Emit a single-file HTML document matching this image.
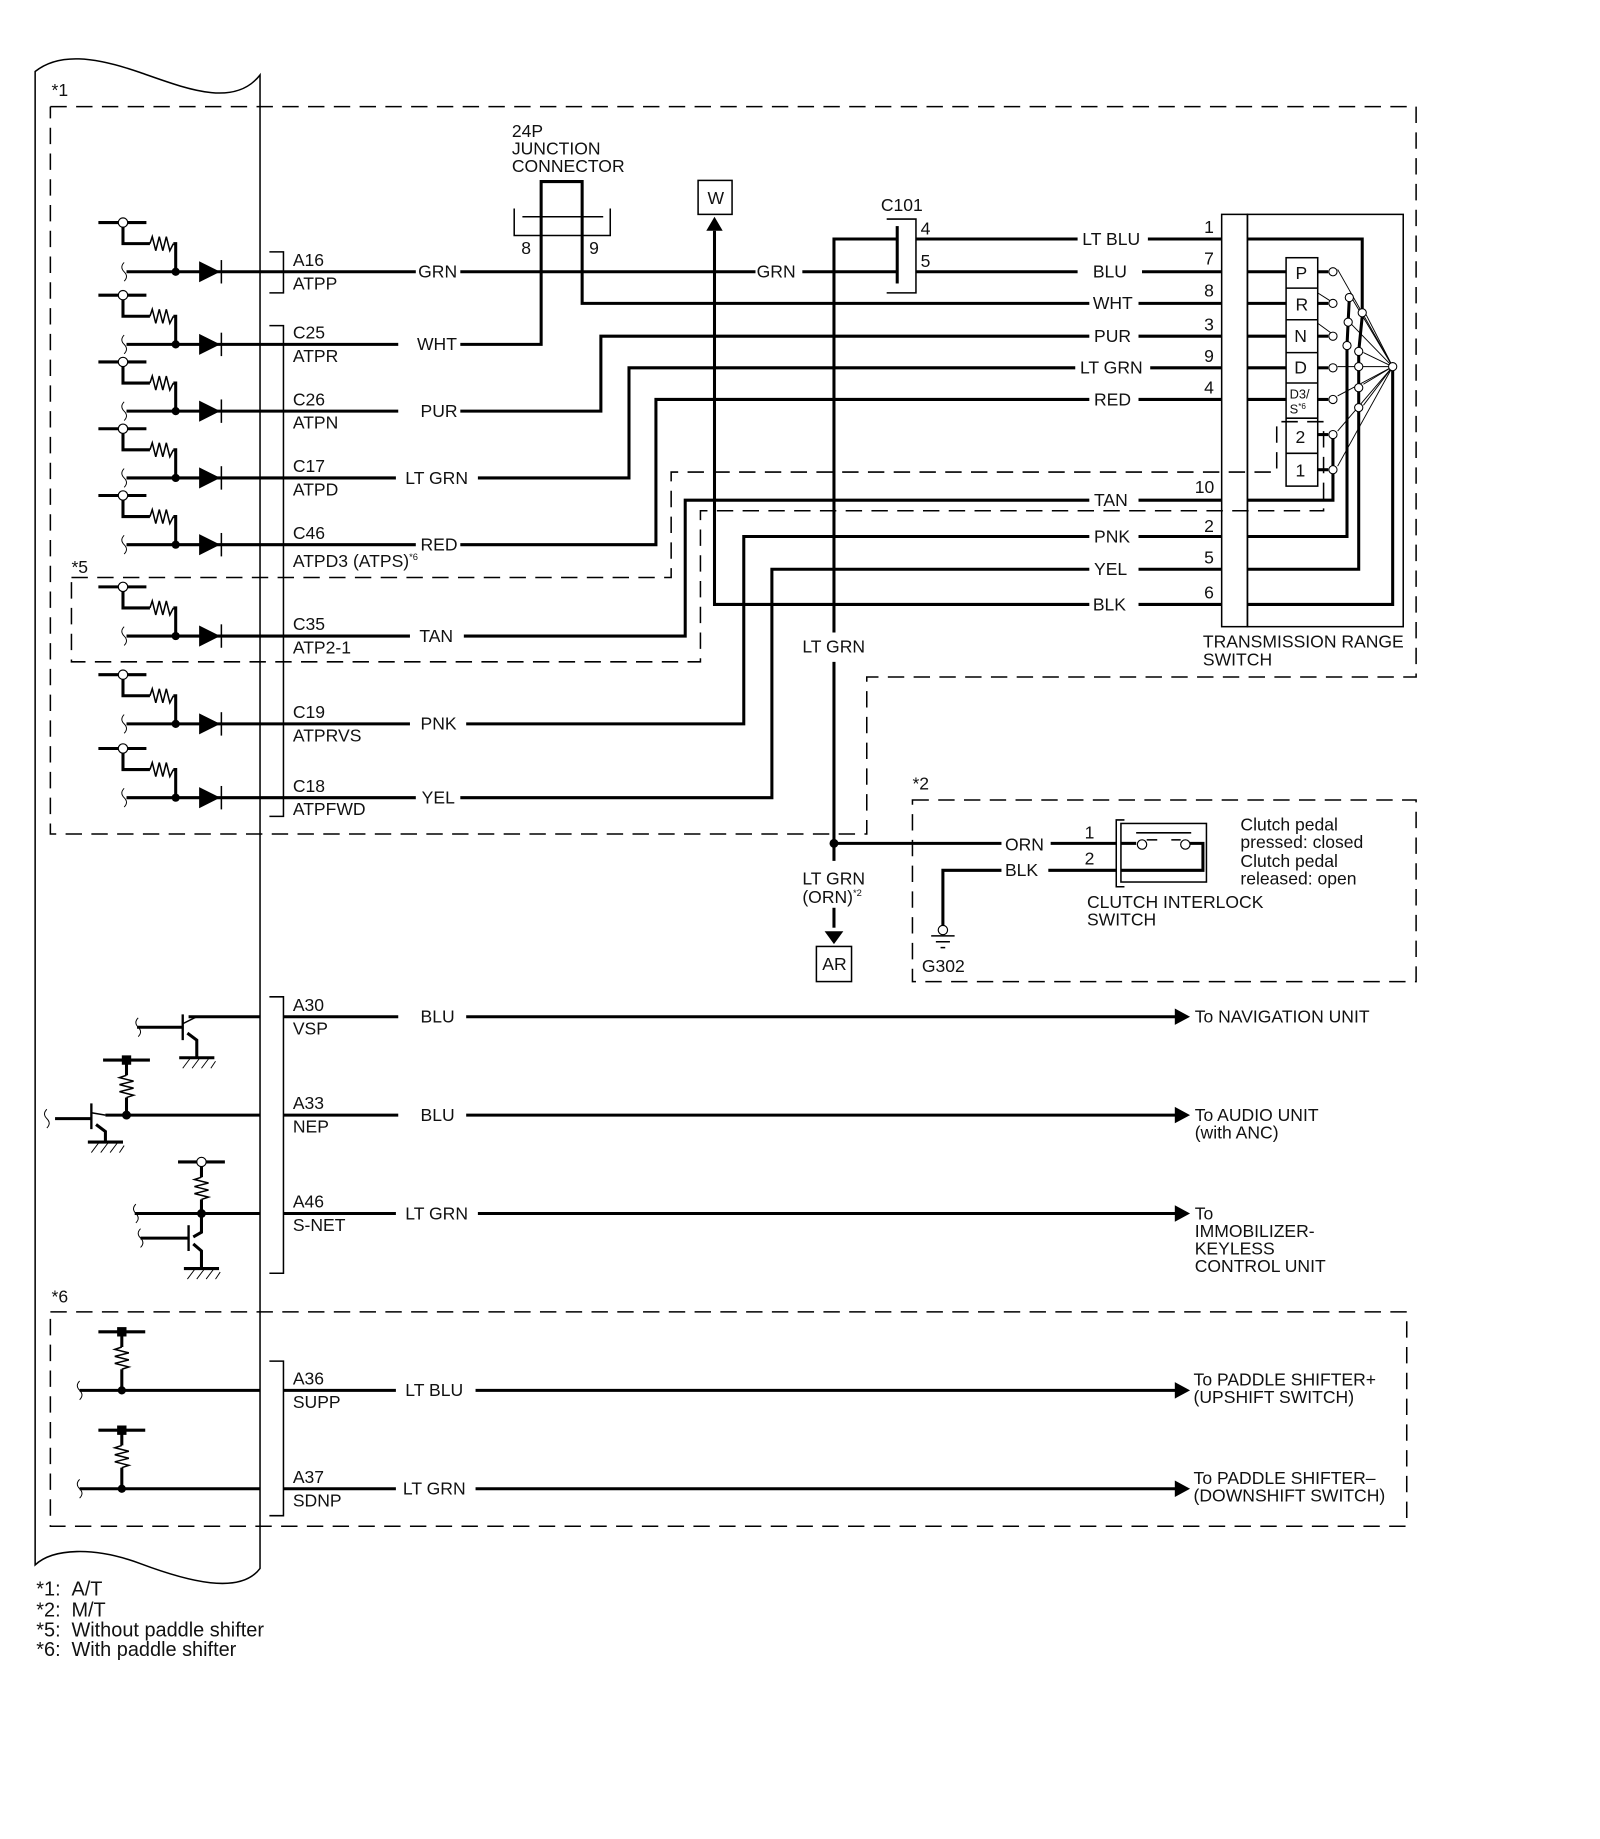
<!DOCTYPE html>
<html><head><meta charset="utf-8"><style>
html,body{margin:0;padding:0;background:#fff}
svg{display:block}
text{font-family:"Liberation Sans",Arial,sans-serif;font-size:15px;fill:#111}
.w{stroke:#000;stroke-width:2.6;fill:none}
.t{stroke:#000;stroke-width:1.3;fill:none}
.d{stroke:#000;stroke-width:1.3;fill:none;stroke-dasharray:14 8}
.f{stroke:#000;stroke-width:0.8;fill:none}
</style></head><body>
<svg width="1600" height="1839" viewBox="0 0 1366 1570" xmlns="http://www.w3.org/2000/svg">
<defs>
<g id="sw">
 <line class="w" x1="84" y1="-42" x2="125" y2="-42"/>
 <polyline class="w" points="105,-42 105,-24 128,-24"/>
 <polyline class="t" points="128,-24 130,-30 133,-18 136,-30 139,-18 142,-30 145,-18 148,-24"/>
 <polyline class="w" points="148,-24 150,-24 150,0"/>
 <circle cx="105" cy="-42" r="4" fill="#fff" stroke="#000" stroke-width="1"/>
 <path class="f" d="M106,-8 q-4,4 0,8 q4,4 0,8"/>
 <line class="w" x1="108" y1="0" x2="222" y2="0"/>
 <circle cx="150" cy="0" r="3.5"/>
 <polygon points="170,-9 170,9 188,0"/>
 <line class="t" x1="189" y1="-10" x2="189" y2="10"/>
</g>
<g id="pu">
 <line class="w" x1="-20" y1="0" x2="20" y2="0"/>
 <rect x="-4" y="-4" width="8" height="8"/>
 <line class="w" x1="0" y1="0" x2="0" y2="13"/>
 <polyline class="t" points="0,13 -6,15 6,18 -6,21 6,24 -6,27 6,30 0,32"/>
 <line class="w" x1="0" y1="32" x2="0" y2="50"/>
</g>
<g id="gnd">
 <line class="w" x1="-15" y1="0" x2="15" y2="0"/>
 <path class="f" d="M-12,9 L-6,1 M-4,9 L2,1 M4,9 L10,1 M12,9 L16,3"/>
</g>
</defs>

<!-- ECU outline -->
<path class="t" d="M30,61 C50,45 80,48 120,62 S200,92 222,64 L222,1339 C205,1362 160,1350 120,1335 S45,1322 30,1336 Z" fill="none"/>

<!-- dashed boxes -->
<text x="44" y="82">*1</text>
<polyline class="d" points="43,91 1209,91 1209,578 740,578 740,712 43,712 43,91"/>
<text x="61" y="489">*5</text>
<polygon class="d" points="61,493 573,493 573,403 1090,403 1090,360 1130,360 1130,436 598,436 598,565 61,565"/>
<text x="779" y="674">*2</text>
<rect class="d" x="779" y="683" width="430" height="155"/>
<text x="44" y="1112">*6</text>
<rect class="d" x="43" y="1120" width="1158" height="183"/>

<!-- switch input circuits -->
<use href="#sw" y="232"/>
<use href="#sw" y="294"/>
<use href="#sw" y="351"/>
<use href="#sw" y="408"/>
<use href="#sw" y="465"/>
<use href="#sw" y="543"/>
<use href="#sw" y="618"/>
<use href="#sw" y="681"/>

<!-- connector brackets -->
<polyline class="t" points="230,215 242,215 242,250 230,250"/>
<polyline class="t" points="230,278 242,278 242,697 230,697"/>
<polyline class="t" points="230,851 242,851 242,1087 230,1087"/>
<polyline class="t" points="230,1162 242,1162 242,1294 230,1294"/>

<!-- pin labels -->
<text x="250" y="227">A16</text><text x="250" y="247">ATPP</text>
<text x="250" y="289">C25</text><text x="250" y="309">ATPR</text>
<text x="250" y="346">C26</text><text x="250" y="366">ATPN</text>
<text x="250" y="403">C17</text><text x="250" y="423">ATPD</text>
<text x="250" y="460">C46</text><text x="250" y="484">ATPD3 (ATPS)<tspan font-size="8" dy="-6">*6</tspan></text>
<text x="250" y="538">C35</text><text x="250" y="558">ATP2-1</text>
<text x="250" y="613">C19</text><text x="250" y="633">ATPRVS</text>
<text x="250" y="676">C18</text><text x="250" y="696">ATPFWD</text>
<text x="250" y="863">A30</text><text x="250" y="883">VSP</text>
<text x="250" y="947">A33</text><text x="250" y="967">NEP</text>
<text x="250" y="1031">A46</text><text x="250" y="1051">S-NET</text>
<text x="250" y="1182">A36</text><text x="250" y="1202">SUPP</text>
<text x="250" y="1266">A37</text><text x="250" y="1286">SDNP</text>

<!-- 24P junction connector -->
<text x="437" y="117">24P</text><text x="437" y="132">JUNCTION</text><text x="437" y="147">CONNECTOR</text>
<polyline class="w" points="462,185 462,155 497,155 497,185"/>
<line class="t" x1="446" y1="185" x2="515" y2="185"/>
<polyline class="t" points="439,178 439,201 521,201 521,178"/>
<text x="445" y="217">8</text><text x="503" y="217">9</text>

<!-- W box -->
<rect class="t" x="596" y="154" width="29" height="29"/>
<text x="604" y="174">W</text>
<polygon points="610,185 603,197 617,197"/>

<!-- C101 -->
<text x="752" y="180">C101</text>
<line class="w" x1="766" y1="193" x2="766" y2="242"/>
<polyline class="t" points="757,187 782,187 782,250 757,250"/>
<text x="786" y="200">4</text><text x="786" y="228">5</text>

<!-- wires -->
<g class="w">
 <polyline points="222,232 355,232"/><polyline points="393,232 645,232"/><polyline points="685,232 766,232"/>
 <polyline points="782,232 920,232"/><polyline points="975,232 1043,232"/>
 <polyline points="782,204 920,204"/><polyline points="980,204 1043,204"/>
 <polyline points="766,204 712,204 712,540"/><polyline points="712,565 712,735"/><polyline points="712,775 712,792"/>
 <polyline points="222,294 340,294"/><polyline points="393,294 462,294 462,185"/>
 <polyline points="497,185 497,259 930,259"/><polyline points="972,259 1043,259"/>
 <polyline points="610,197 610,516 930,516"/><polyline points="972,516 1043,516"/>
 <polyline points="222,351 340,351"/><polyline points="393,351 513,351 513,287 930,287"/><polyline points="972,287 1043,287"/>
 <polyline points="222,408 338,408"/><polyline points="408,408 537,408 537,314 918,314"/><polyline points="982,314 1043,314"/>
 <polyline points="222,465 355,465"/><polyline points="393,465 560,465 560,341 930,341"/><polyline points="972,341 1043,341"/>
 <polyline points="222,543 350,543"/><polyline points="396,543 585,543 585,427 930,427"/><polyline points="972,427 1043,427"/>
 <polyline points="222,618 350,618"/><polyline points="398,618 635,618 635,458 930,458"/><polyline points="972,458 1043,458"/>
 <polyline points="222,681 355,681"/><polyline points="393,681 659,681 659,486 930,486"/><polyline points="972,486 1043,486"/>
 <polyline points="712,720 855,720"/><polyline points="897,720 953,720"/>
 <polyline points="805,790 805,743 855,743"/><polyline points="895,743 953,743"/>
</g>
<text x="357" y="237">GRN</text><text x="646" y="237">GRN</text>
<text x="924" y="209">LT BLU</text><text x="933" y="237">BLU</text>
<text x="356" y="299">WHT</text><text x="933" y="264">WHT</text>
<text x="933" y="521">BLK</text>
<text x="359" y="356">PUR</text><text x="934" y="292">PUR</text>
<text x="346" y="413">LT GRN</text><text x="922" y="319">LT GRN</text>
<text x="359" y="470">RED</text><text x="934" y="346">RED</text>
<text x="358" y="548">TAN</text><text x="934" y="432">TAN</text>
<text x="359" y="623">PNK</text><text x="934" y="463">PNK</text>
<text x="360" y="686">YEL</text><text x="934" y="491">YEL</text>
<text x="685" y="557">LT GRN</text>
<circle cx="712" cy="720" r="3.8"/>
<text x="685" y="755">LT GRN</text><text x="685" y="771">(ORN)<tspan font-size="8" dy="-6">*2</tspan></text>
<polygon points="704,795 720,795 712,806"/>
<rect class="t" x="697" y="808" width="30" height="30"/><text x="702" y="828">AR</text>

<!-- pin numbers -->
<text x="1028" y="199">1</text><text x="1028" y="226">7</text><text x="1028" y="253">8</text>
<text x="1028" y="282">3</text><text x="1028" y="309">9</text><text x="1028" y="336">4</text>
<text x="1020" y="421">10</text><text x="1028" y="454">2</text><text x="1028" y="481">5</text><text x="1028" y="511">6</text>

<!-- transmission range switch -->
<rect class="t" x="1043" y="183" width="22" height="352"/>
<rect class="t" x="1065" y="183" width="133" height="352"/>
<rect class="t" x="1098" y="220" width="27" height="195"/>
<g class="t"><line x1="1098" y1="246" x2="1125" y2="246"/><line x1="1098" y1="273" x2="1125" y2="273"/><line x1="1098" y1="301" x2="1125" y2="301"/><line x1="1098" y1="327" x2="1125" y2="327"/><line x1="1098" y1="357" x2="1125" y2="357"/><line x1="1098" y1="387" x2="1125" y2="387"/></g>
<text x="1106" y="238">P</text><text x="1106" y="265">R</text><text x="1105" y="292">N</text><text x="1105" y="319">D</text>
<text x="1101" y="340" style="font-size:11px">D3/</text><text x="1101" y="353" style="font-size:11px">S<tspan style="font-size:7px" dy="-4">*6</tspan></text>
<text x="1106" y="378">2</text><text x="1106" y="407">1</text>
<g class="w">
 <polyline points="1065,232 1098,232"/><polyline points="1065,259 1098,259"/><polyline points="1065,287 1098,287"/>
 <polyline points="1065,314 1098,314"/><polyline points="1065,341 1098,341"/>
 <polyline points="1125,232 1134,232"/><polyline points="1125,259 1134,259"/><polyline points="1125,287 1134,287"/>
 <polyline points="1125,314 1134,314"/><polyline points="1125,341 1134,341"/><polyline points="1125,371 1134,371"/><polyline points="1125,401 1134,401"/>
 <polyline points="1065,204 1163,204 1163,264"/>
 <polyline points="1163,270 1160,300 1160,486 1065,486"/>
 <polyline points="1152,254 1150,295 1150,458 1065,458"/>
 <polyline points="1138,371 1138,427 1065,427"/>
 <polyline points="1189,313 1189,516 1065,516"/>
</g>
<g class="f">
 <line x1="1189" y1="313" x2="1142" y2="230"/><line x1="1189" y1="313" x2="1155" y2="256"/><line x1="1189" y1="313" x2="1166" y2="268"/>
 <line x1="1189" y1="313" x2="1153" y2="276"/><line x1="1189" y1="313" x2="1164" y2="301"/><line x1="1189" y1="313" x2="1142" y2="313"/>
 <line x1="1189" y1="313" x2="1164" y2="328"/><line x1="1189" y1="313" x2="1164" y2="346"/><line x1="1189" y1="313" x2="1142" y2="368"/>
 <line x1="1189" y1="313" x2="1142" y2="398"/><line x1="1189" y1="313" x2="1142" y2="338"/>
 <line x1="1125" y1="250" x2="1136" y2="257"/><line x1="1125" y1="276" x2="1136" y2="284"/>
</g>
<g fill="#fff" stroke="#000" stroke-width="0.9">
 <circle cx="1138" cy="232" r="3.5"/><circle cx="1138" cy="259" r="3.5"/><circle cx="1138" cy="287" r="3.5"/>
 <circle cx="1138" cy="314" r="3.5"/><circle cx="1138" cy="341" r="3.5"/><circle cx="1138" cy="371" r="3.5"/><circle cx="1138" cy="401" r="3.5"/>
 <circle cx="1152" cy="254" r="3.5"/><circle cx="1151" cy="275" r="3.5"/><circle cx="1150" cy="295" r="3.5"/>
 <circle cx="1163" cy="267" r="3.5"/><circle cx="1160" cy="300" r="3.5"/><circle cx="1160" cy="313" r="3.5"/>
 <circle cx="1160" cy="331" r="3.5"/><circle cx="1160" cy="348" r="3.5"/><circle cx="1189" cy="313" r="3.5"/>
</g>
<text x="1027" y="553">TRANSMISSION RANGE</text><text x="1027" y="568">SWITCH</text>

<!-- clutch interlock switch -->
<text x="926" y="716">1</text><text x="926" y="738">2</text>
<polyline class="t" points="960,700 953,700 953,757 960,757"/>
<rect class="t" x="957" y="703" width="73" height="50"/>
<line class="t" x1="970" y1="711" x2="1017" y2="711"/>
<polyline class="w" points="957,720 970,720"/><polyline class="w" points="1016,720 1027,720 1027,743 957,743"/>
<line class="t" x1="979" y1="717" x2="988" y2="717"/><line class="t" x1="1000" y1="717" x2="1008" y2="717"/>
<circle cx="975" cy="721" r="4" fill="#fff" stroke="#000" stroke-width="1"/><circle cx="1012" cy="721" r="4" fill="#fff" stroke="#000" stroke-width="1"/>
<text x="858" y="726">ORN</text><text x="858" y="748">BLK</text>
<text x="1059" y="709">Clutch pedal</text><text x="1059" y="724">pressed: closed</text>
<text x="1059" y="740">Clutch pedal</text><text x="1059" y="755">released: open</text>
<text x="928" y="775">CLUTCH INTERLOCK</text><text x="928" y="790">SWITCH</text>
<circle cx="805" cy="794" r="4" fill="#fff" stroke="#000" stroke-width="1"/>
<line class="t" x1="795" y1="799" x2="815" y2="799"/><line class="t" x1="799" y1="804" x2="811" y2="804"/><line class="t" x1="803" y1="809" x2="807" y2="809"/>
<text x="787" y="830">G302</text>

<!-- transistor outputs -->
<g class="w">
 <polyline points="161,868 222,868"/>
 <polyline points="117,877 156,877"/>
 <polyline points="160,882 168,888 168,903"/>
 <polyline points="90,952 222,952"/>
 <polyline points="47,955 78,955"/>
 <polyline points="82,960 90,966 90,975"/>
 <polyline points="115,1036 222,1036"/>
 <polyline points="172,1036 172,1052 165,1056"/>
 <polyline points="120,1057 161,1057"/>
 <polyline points="165,1062 172,1068 172,1083"/>
 <polyline points="68,1187 222,1187"/>
 <polyline points="68,1271 222,1271"/>
</g>
<g class="t">
 <line x1="156" y1="866" x2="156" y2="888" stroke-width="2"/><line x1="156" y1="874" x2="168" y2="868"/>
 <line x1="78" y1="942" x2="78" y2="964" stroke-width="2"/><line x1="78" y1="950" x2="90" y2="952"/>
 <line x1="161" y1="1046" x2="161" y2="1068" stroke-width="2"/>
</g>
<use href="#gnd" x="168" y="903"/><use href="#gnd" x="90" y="975"/><use href="#gnd" x="172" y="1083"/>
<use href="#pu" x="108" y="905"/>
<circle cx="108" cy="952" r="3.8"/>
<g transform="translate(172,992)">
 <line class="w" x1="-20" y1="0" x2="20" y2="0"/>
 <line class="w" x1="0" y1="0" x2="0" y2="13"/>
 <polyline class="t" points="0,13 -6,15 6,18 -6,21 6,24 -6,27 6,30 0,32"/>
 <line class="w" x1="0" y1="32" x2="0" y2="44"/>
 <circle cx="0" cy="0" r="4" fill="#fff" stroke="#000" stroke-width="1"/>
</g>
<circle cx="172" cy="1036" r="3.8"/>
<use href="#pu" x="104" y="1137"/><circle cx="104" cy="1187" r="3.5"/>
<use href="#pu" x="104" y="1221"/><circle cx="104" cy="1271" r="3.5"/>
<g class="f">
 <path d="M118,869 q-4,4 0,8 q4,4 0,8"/><path d="M40,947 q-4,4 0,8 q4,4 0,8"/>
 <path d="M116,1028 q-4,4 0,8 q4,4 0,8"/><path d="M120,1049 q-4,4 0,8 q4,4 0,8"/>
 <path d="M68,1179 q-4,4 0,8 q4,4 0,8"/><path d="M68,1263 q-4,4 0,8 q4,4 0,8"/>
</g>

<!-- output wires -->
<g class="w">
 <polyline points="242,868 340,868"/><polyline points="398,868 1005,868"/>
 <polyline points="242,952 340,952"/><polyline points="398,952 1005,952"/>
 <polyline points="242,1036 338,1036"/><polyline points="408,1036 1005,1036"/>
 <polyline points="242,1187 338,1187"/><polyline points="406,1187 1005,1187"/>
 <polyline points="242,1271 338,1271"/><polyline points="406,1271 1005,1271"/>
</g>
<polygon points="1003,861 1003,875 1016,868"/><polygon points="1003,945 1003,959 1016,952"/>
<polygon points="1003,1029 1003,1043 1016,1036"/><polygon points="1003,1180 1003,1194 1016,1187"/>
<polygon points="1003,1264 1003,1278 1016,1271"/>
<text x="359" y="873">BLU</text><text x="359" y="957">BLU</text><text x="346" y="1041">LT GRN</text>
<text x="346" y="1192">LT BLU</text><text x="344" y="1276">LT GRN</text>
<text x="1020" y="873">To NAVIGATION UNIT</text>
<text x="1020" y="957">To AUDIO UNIT</text><text x="1020" y="972">(with ANC)</text>
<text x="1020" y="1041">To</text><text x="1020" y="1056">IMMOBILIZER-</text><text x="1020" y="1071">KEYLESS</text><text x="1020" y="1086">CONTROL UNIT</text>
<text x="1019" y="1183">To PADDLE SHIFTER+</text><text x="1019" y="1198">(UPSHIFT SWITCH)</text>
<text x="1019" y="1267">To PADDLE SHIFTER–</text><text x="1019" y="1282">(DOWNSHIFT SWITCH)</text>

<!-- legend -->
<g style="font-size:17px">
<text x="31" y="1362" style="font-size:17px">*1:</text><text x="61" y="1362" style="font-size:17px">A/T</text>
<text x="31" y="1380" style="font-size:17px">*2:</text><text x="61" y="1380" style="font-size:17px">M/T</text>
<text x="31" y="1397" style="font-size:17px">*5:</text><text x="61" y="1397" style="font-size:17px">Without paddle shifter</text>
<text x="31" y="1414" style="font-size:17px">*6:</text><text x="61" y="1414" style="font-size:17px">With paddle shifter</text>
</g>
</svg>
</body></html>
